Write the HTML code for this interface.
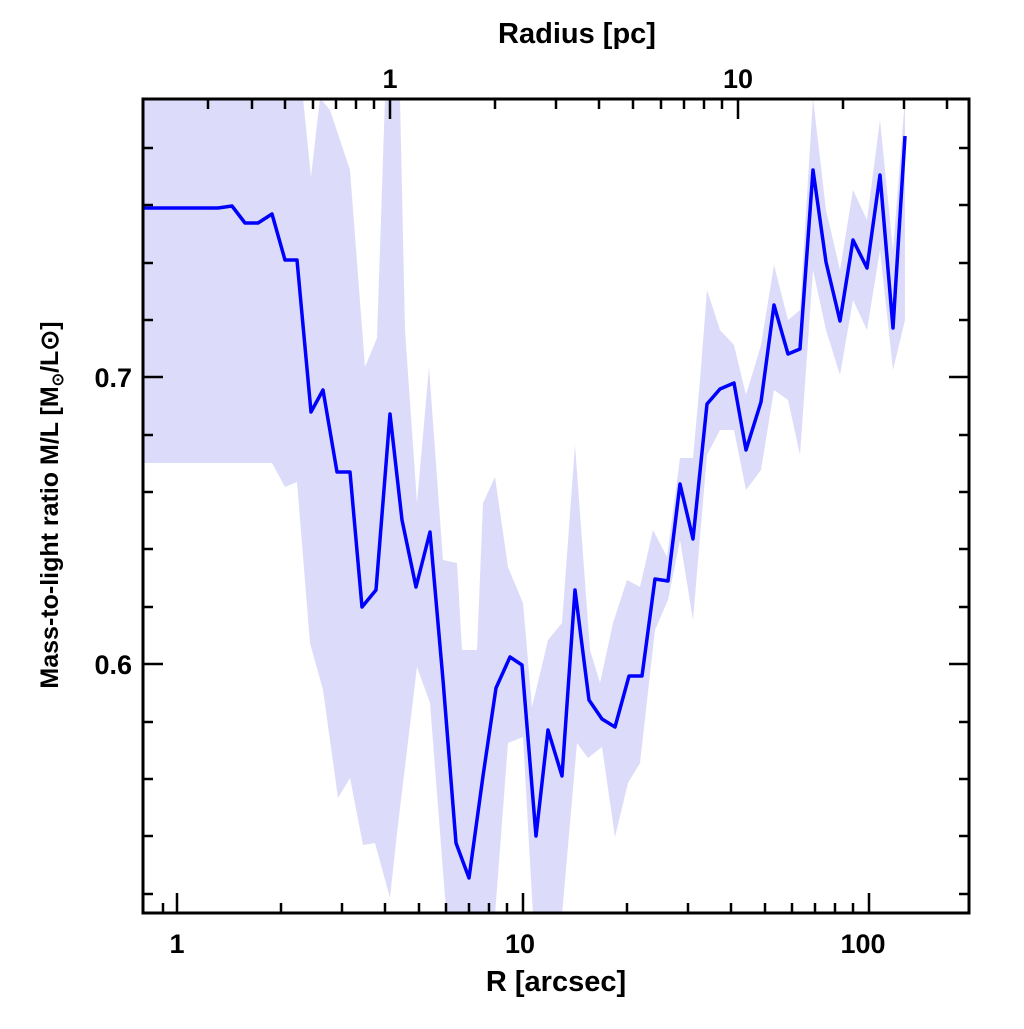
<!DOCTYPE html>
<html><head><meta charset="utf-8"><style>
html,body{margin:0;padding:0;background:#fff;}
svg text{font-family:"Liberation Sans",sans-serif;font-weight:bold;fill:#000;}
</style></head><body>
<svg width="1024" height="1024" viewBox="0 0 1024 1024" xmlns="http://www.w3.org/2000/svg">
<defs><clipPath id="c"><rect x="143" y="99" width="826" height="814"/></clipPath></defs>
<g clip-path="url(#c)">
<polygon fill="#dcdcfa" points="
143,98 303,98 311,177 320,98 330,110 350,170 365,367 377,338 385,98 400,98 405,330 417,503 429,367 443,560 457,563 462,650 477,650 483,503 495,477 508,567 523,603 532,707 548,640 562,623 575,445 590,650 600,683 613,623 627,580 640,587 653,530 667,557 680,458 693,458 700,380 707,290 720,330 734,345 746,395 761,345 774,265 788,320 800,310 813,98 826,210 840,270 853,190 867,220 880,120 893,250 905,98
905,320 893,370 880,250 867,330 853,300 840,375 826,330 813,270 800,455 788,400 774,390 761,470 746,490 734,430 720,430 707,455 693,620 680,540 668,600 655,630
640,763 628,783 615,837 602,747 588,758 577,743 562,915 533,915 523,737 508,743 495,915 447,915 445,897 430,703 417,667 397,833 390,898 375,843 363,845 350,778 338,798 323,690 310,643 297,482 285,487 272,463 143,463"/>
<polyline fill="none" stroke="#0000ff" stroke-width="3.5" stroke-linejoin="round" points="143,208 218,208 232,206 245,223 258,223 272,214 285,260 297,260 311,412 323,390 337,472 350,472 362,607 376,590 390,414 402,520 416,587 430,532 443,680 456,843 469,878 483,776 496,688 510,657 522,665 536,836 548,730 562,776 575,590 589,700 602,719 615,727 629,676 642,676 655,579 668,581 680,484 693,539 707,404 720,389 734,383 746,450 761,402 774,305 788,354 800,349 813,170 826,262 840,321 853,240 867,268 880,175 893,328 905,136"/>
</g>
<rect x="143" y="99" width="826" height="814" fill="none" stroke="#000" stroke-width="3"/>
<g stroke="#000" stroke-width="2.5">
<path d="M177,913v-20M523,913v-20M869,913v-20
M143,913v-10M163,913v-10
M281,913v-10M342,913v-10M385,913v-10M419,913v-10M446,913v-10M469,913v-10M489,913v-10M507,913v-10
M627,913v-10M688,913v-10M731,913v-10M765,913v-10M792,913v-10M815,913v-10M835,913v-10M853,913v-10"/>
<path d="M390,99v20M738,99v20
M208,99v10M252,99v10M285,99v10M313,99v10M336,99v10M356,99v10M374,99v10
M495,99v10M556,99v10M599,99v10M633,99v10M661,99v10M684,99v10M704,99v10M722,99v10
M843,99v10M904,99v10M947,99v10"/>
<path d="M143,377h20M143,664h20M969,377h-20M969,664h-20
M143,148h10M143,205h10M143,263h10M143,320h10M143,435h10M143,492h10M143,549h10M143,607h10M143,722h10M143,779h10M143,836h10M143,894h10
M969,148h-10M969,205h-10M969,263h-10M969,320h-10M969,435h-10M969,492h-10M969,549h-10M969,607h-10M969,722h-10M969,779h-10M969,836h-10M969,894h-10"/>
</g>
<g font-size="27" text-anchor="middle">
<text x="177" y="953">1</text>
<text x="520" y="953">10</text>
<text x="863" y="953">100</text>
<text x="390" y="88">1</text>
<text x="738" y="88">10</text>
<text x="556" y="991" font-size="29">R [arcsec]</text>
<text x="577" y="43" font-size="29">Radius [pc]</text>
</g>
<g font-size="27" text-anchor="end">
<text x="132" y="387">0.7</text>
<text x="132" y="674">0.6</text>
</g>
<text font-size="25" text-anchor="middle" transform="translate(58,505) rotate(-90)">Mass-to-light ratio M/L [M<tspan font-size="16" dy="5">⊙</tspan><tspan dy="-5">/L⊙]</tspan></text>
</svg>
</body></html>
